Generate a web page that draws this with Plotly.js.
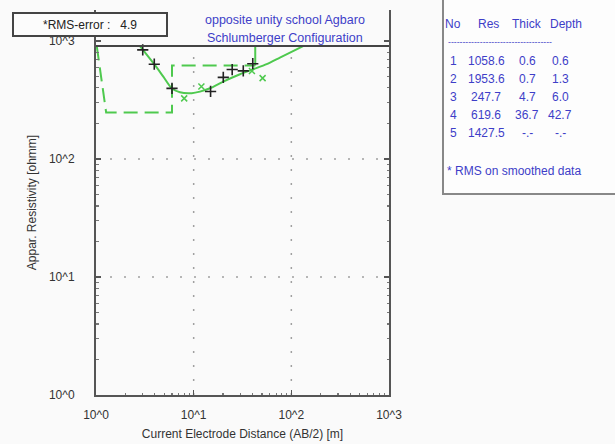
<!DOCTYPE html>
<html>
<head>
<meta charset="utf-8">
<script src="https://cdn.plot.ly/plotly-3.0.1.min.js"></script>
<style>html,body{margin:0;padding:0;background:#fafafa;}#chart{width:615px;height:444px;}</style>
</head>
<body>
<div id="chart"></div>
<script>
// ---- data ----
// observed field data (black +)
const obsAB  = [3.01, 3.95, 6.0, 14.9, 20.1, 24.8, 32.2, 40.3];
const obsRho = [839, 635, 396, 373, 491, 572, 557, 641];
// smoothed data (green x)
const smAB  = [8.0, 12.0, 39.5, 50.8];
const smRho = [326, 411, 557, 484];
// calculated curve (green solid)
const calcAB  = [2.82, 3.95, 4.89, 5.95, 7.24, 9.55, 11.6, 14.7, 20.1, 29.8, 40.7, 55.9, 76.4, 132];
const calcRho = [905, 635, 498, 397, 367, 361, 372, 397, 452, 522, 575, 635, 722, 905];
// layered model curve (green dashed), visible part
const modelAB  = [1.02, 1.27, 6.0, 6.0, 42.7];
const modelRho = [895, 247.7, 247.7, 619.6, 619.6];
const lastBoundaryAB  = [42.7, 42.7];
const lastBoundaryRho = [619.6, 905];
// upper frame line of the plot (ohm-m level)
const topRho = 905;

// tick labels
const tickVals = [1, 10, 100, 1000];
const tickText = ['10^0', '10^1', '10^2', '10^3'];

// inversion result table
const layerNo    = ['1', '2', '3', '4', '5'];
const layerRes   = ['1058.6', '1953.6', '247.7', '619.6', '1427.5'];
const layerThick = ['0.6', '0.7', '4.7', '36.7', '-.-'];
const layerDepth = ['0.6', '1.3', '6.0', '42.7', '-.-'];
const tableHead  = ['No', 'Res', 'Thick', 'Depth'];

const rmsText = '*RMS-error :   4.9';
const titleLines = ['opposite unity school Agbaro', 'Schlumberger Configuration'];

// ---- styling ----
const green = '#4ec94e';
const blue = '#3e3ec8';
const font = 'Liberation Sans, Arial, sans-serif';

const minorVals = [];
for (let d = 0; d < 3; d++) for (let m = 2; m <= 9; m++) minorVals.push(m * Math.pow(10, d));

const traces = [
  {x: modelAB, y: modelRho, mode: 'lines', line: {color: green, width: 2, dash: '14px,7px'}, hoverinfo: 'skip'},
  {x: lastBoundaryAB, y: lastBoundaryRho, mode: 'lines', line: {color: green, width: 2}, hoverinfo: 'skip'},
  {x: calcAB, y: calcRho, mode: 'lines', line: {color: green, width: 2, shape: 'spline', smoothing: 0.6}},
  {x: smAB, y: smRho, mode: 'markers', marker: {symbol: 'x-thin', size: 6, line: {color: green, width: 1.5}}},
  {x: obsAB, y: obsRho, mode: 'markers', marker: {symbol: 'cross-thin', size: 8, line: {color: '#222', width: 1.6}}}
];

// pixel -> paper helpers for overlay boxes (plot area: x 96..389, y 10..395)
const L = 96, R = 389, T = 10, B = 395;
const px = v => (v - L) / (R - L);
const py = v => (B - v) / (B - T);

const shapes = [];
// dotted grid lines
[10, 100].forEach(v => {
  shapes.push({type: 'line', xref: 'x', yref: 'y', x0: v, x1: v, y0: 1, y1: topRho, line: {color: '#a0a0a0', width: 1.5, dash: '2px,12px'}, layer: 'below'});
  shapes.push({type: 'line', xref: 'x', yref: 'y', x0: 1, x1: 1000, y0: v, y1: v, line: {color: '#a0a0a0', width: 1.5, dash: '2px,12px'}, layer: 'below'});
});
// upper frame line
shapes.push({type: 'line', xref: 'x', yref: 'y', x0: 1, x1: 1000, y0: topRho, y1: topRho, line: {color: '#444', width: 2}});
// RMS box
shapes.push({type: 'rect', xref: 'paper', yref: 'paper', x0: px(13), x1: px(167), y0: py(36), y1: py(13), fillcolor: '#fcfcfc', line: {color: '#444', width: 2}, layer: 'above'});
// table box
shapes.push({type: 'rect', xref: 'paper', yref: 'paper', x0: px(443), x1: px(640), y0: py(194), y1: py(-20), fillcolor: '#fdfdfd', line: {color: '#888', width: 2}, layer: 'below'});

const annotations = [];
annotations.push({xref: 'paper', yref: 'paper', x: px(90), y: py(25), text: rmsText, showarrow: false, font: {family: font, size: 12, color: '#222'}, xanchor: 'center', yanchor: 'middle'});
titleLines.forEach((t, i) => annotations.push({xref: 'paper', yref: 'paper', x: px(285), y: py(20 + 18 * i), text: t, showarrow: false, font: {family: font, size: 12.5, color: blue}, xanchor: 'center', yanchor: 'middle'}));

// table text
const colX = [453, 486, 527, 560];
const headX = [453, 488, 527, 566];
tableHead.forEach((h, i) => annotations.push({xref: 'paper', yref: 'paper', x: px(headX[i]), y: py(24), text: h, showarrow: false, font: {family: font, size: 12, color: blue}, xanchor: 'center', yanchor: 'middle'}));
annotations.push({xref: 'paper', yref: 'paper', x: px(446), y: py(42), text: '-'.repeat(36), showarrow: false, font: {family: 'DejaVu Sans, sans-serif', size: 8, color: blue}, xanchor: 'left', yanchor: 'middle'});
const rowY = [61, 79, 97, 115, 133];
layerNo.forEach((n, i) => {
  [n, layerRes[i], layerThick[i], layerDepth[i]].forEach((v, j) => {
    annotations.push({xref: 'paper', yref: 'paper', x: px(colX[j]), y: py(rowY[i]), text: v, showarrow: false, font: {family: font, size: 12, color: blue}, xanchor: 'center', yanchor: 'middle'});
  });
});
annotations.push({xref: 'paper', yref: 'paper', x: px(445), y: py(171), text: '* RMS on smoothed data', showarrow: false, font: {family: font, size: 12, color: blue}, xanchor: 'left', yanchor: 'middle'});

const layout = {
  width: 615, height: 444,
  margin: {l: L, r: 615 - R, t: T, b: 444 - B, pad: 0},
  paper_bgcolor: '#fafafa', plot_bgcolor: '#fafafa',
  showlegend: false,
  font: {family: font, size: 12, color: '#333'},
  xaxis: {
    type: 'log', range: [0, 3], tickmode: 'array', tickvals: tickVals, ticktext: tickText,
    ticks: 'inside', ticklen: 5, tickwidth: 1.5, tickcolor: '#555',
    showline: true, linecolor: '#555', linewidth: 2, mirror: false,
    showgrid: false, zeroline: false, automargin: false,
    ticklabelstandoff: 8,
    minor: {tickmode: 'array', tickvals: minorVals, ticks: 'inside', ticklen: 2.5, tickwidth: 1.2, tickcolor: '#777', showgrid: false},
    title: {text: 'Current Electrode Distance (AB/2) [m]', font: {size: 12, color: '#333'}, standoff: 8}
  },
  yaxis: {
    type: 'log', range: [0, 3.262], tickmode: 'array', tickvals: tickVals, ticktext: tickText,
    ticks: 'inside', ticklen: 5, tickwidth: 1.5, tickcolor: '#555',
    showline: true, linecolor: '#555', linewidth: 2, mirror: 'ticks',
    showgrid: false, zeroline: false, automargin: false,
    ticklabelstandoff: 17,
    minor: {tickmode: 'array', tickvals: minorVals, ticks: 'inside', ticklen: 2.5, tickwidth: 1.2, tickcolor: '#777', showgrid: false},
    title: {text: 'Appar. Resistivity [ohmm]', font: {size: 12, color: '#333'}, standoff: 10}
  },
  shapes: shapes,
  annotations: annotations
};

Plotly.newPlot('chart', traces, layout, {displayModeBar: false, staticPlot: true});
</script>
</body>
</html>
